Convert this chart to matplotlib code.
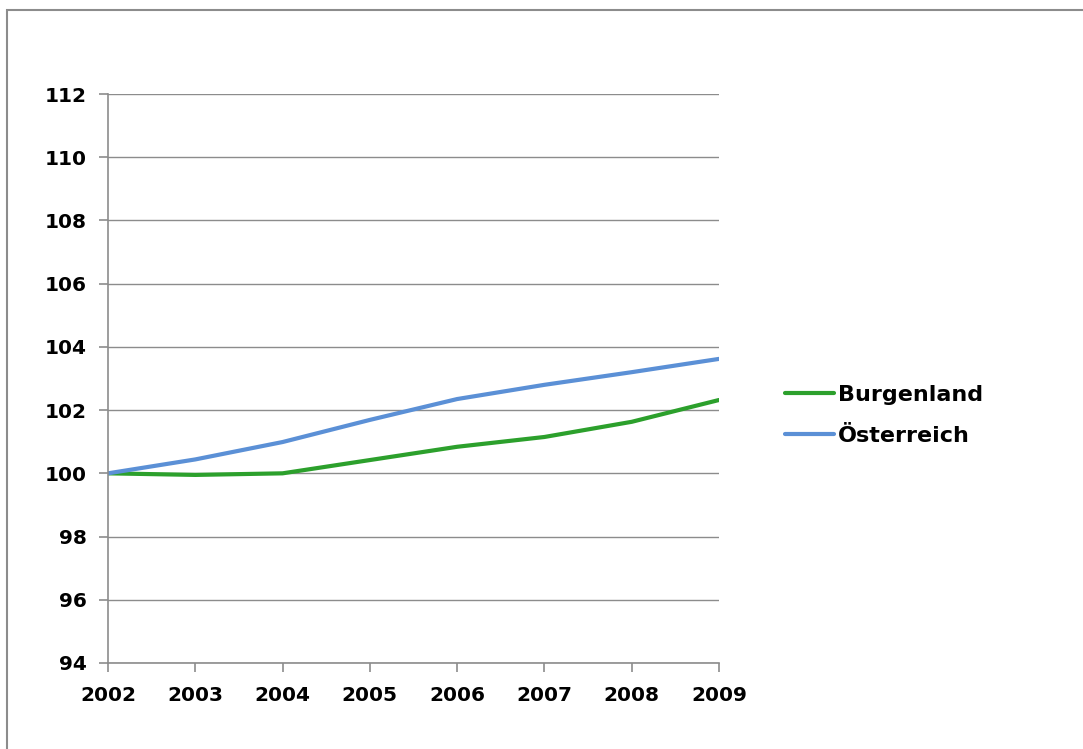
import matplotlib.pyplot as plt
from matplotlib.patches import Rectangle

years = [2002, 2003, 2004, 2005, 2006, 2007, 2008, 2009]
burgenland = [100.0, 99.95, 100.0, 100.42, 100.84, 101.15, 101.63, 102.32]
oesterreich = [100.0, 100.44, 100.99, 101.69, 102.35, 102.8, 103.2, 103.62]
yticks = [94, 96, 98, 100, 102, 104, 106, 108, 110, 112]

W, H = 1083, 749
fig = plt.figure(figsize=(W / 100, H / 100), dpi=100)
fig.patches.append(Rectangle((7 / W, -0.1), 1.2, 1 - 10 / H + 0.1, transform=fig.transFigure,
                             fill=False, edgecolor="#8c8c8c", linewidth=1.5))

ax = fig.add_axes([108 / W, 1 - 663 / H, (719 - 108) / W, (663 - 94) / H])
ax.plot(years, burgenland, color="#2ca02c", linewidth=3, label="Burgenland", solid_capstyle="round")
ax.plot(years, oesterreich, color="#5b90d6", linewidth=3, label="Österreich", solid_capstyle="round")

ax.set_xlim(2002, 2009)
ax.set_ylim(94, 112)
ax.set_yticks(yticks)
ax.set_xticks(years)
ax.grid(axis="y", color="#8c8c8c", linewidth=1.0)
ax.set_axisbelow(True)
for s in ["top", "right"]:
    ax.spines[s].set_visible(False)
for s in ["left", "bottom"]:
    ax.spines[s].set_color("#8c8c8c")
    ax.spines[s].set_linewidth(1.2)
ax.tick_params(axis="both", color="#8c8c8c", length=6.5, width=1.2, labelsize=14.5)
ax.tick_params(axis="x", pad=10)
ax.tick_params(axis="y", pad=9)
for lbl in ax.get_xticklabels() + ax.get_yticklabels():
    lbl.set_fontweight("bold")

leg = fig.legend(loc="upper left", bbox_to_anchor=(765 / W, 1 - 365 / H), frameon=False,
                 handlelength=2.2, handletextpad=0.2, labelspacing=0.95,
                 prop={"size": 16, "weight": "bold"})

fig.savefig("out.png", dpi=100)
